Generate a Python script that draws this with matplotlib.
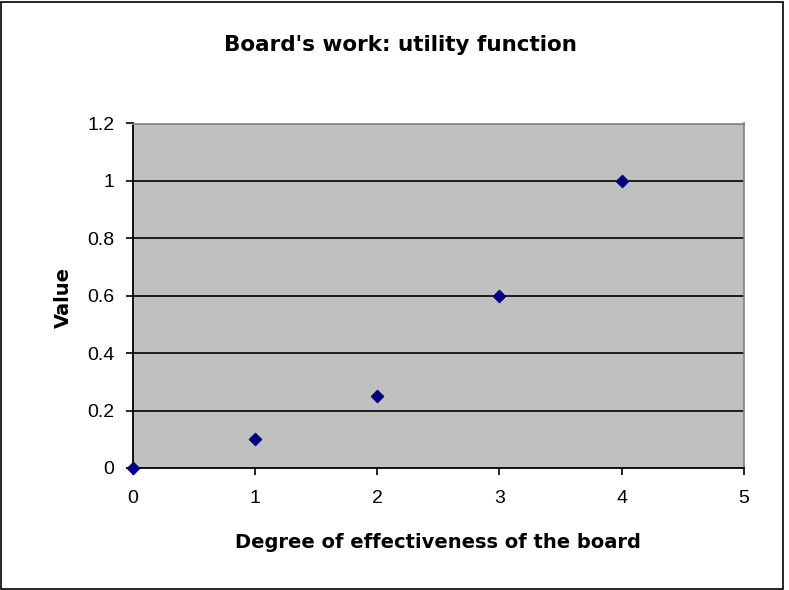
import matplotlib
matplotlib.use("Agg")
import matplotlib.pyplot as plt
from matplotlib.patches import Rectangle

x_vals = [0, 1, 2, 3, 4]
y_vals = [0, 0.1, 0.25, 0.6, 1.0]
x_ticks = [0, 1, 2, 3, 4, 5]
y_ticks = [0, 0.2, 0.4, 0.6, 0.8, 1.0, 1.2]
y_tick_labels = ["0", "0.2", "0.4", "0.6", "0.8", "1", "1.2"]

plt.rcParams['font.family'] = ['Liberation Sans', 'DejaVu Sans']

W, H = 789, 590
fig = plt.figure(figsize=(W/100, H/100), dpi=100)
fig.patch.set_facecolor('white')

# outer frame
fig.patches.append(Rectangle((1/W, 1/H), 782/W, 587/H, transform=fig.transFigure,
                             fill=False, edgecolor='black', linewidth=1.2, zorder=0))

L, R, T, B = 132.5, 744, 123.5, 468
ax = fig.add_axes([L/W, 1 - B/H, (R-L)/W, (B-T)/H])
ax.set_facecolor('#C0C0C0')
ax.set_xlim(0, 5)
ax.set_ylim(0, 1.2)
ax.set_xticks(x_ticks)
ax.set_yticks(y_ticks)
ax.set_yticklabels(y_tick_labels)
for yv in y_ticks[1:-1]:
    ax.axhline(yv, color='black', linewidth=1.2, zorder=1)

ax.scatter(x_vals, y_vals, marker='D', s=38, color='#000080', zorder=3, clip_on=False)

for s in ['left', 'bottom']:
    ax.spines[s].set_color('black')
    ax.spines[s].set_linewidth(1.3)
for s in ['top', 'right']:
    ax.spines[s].set_color('#808080')
    ax.spines[s].set_linewidth(1.2)

ax.tick_params(axis='both', direction='out', length=5, width=1.2, colors='black',
               labelsize=14, pad=8)
ax.tick_params(axis='x', pad=11)

bold = dict(family=['DejaVu Sans'], fontweight='bold')
fig.text(400/W, 1 - 45/H, "Board's work: utility function", ha='center', va='center',
         fontsize=15.5, **bold)
fig.text(437.5/W, 1 - 543/H, "Degree of effectiveness of the board", ha='center', va='center',
         fontsize=14, **bold)
fig.text(63/W, 1 - 298/H, "Value", ha='center', va='center', rotation=90,
         fontsize=14, **bold)

fig.savefig("out.png", dpi=100)
